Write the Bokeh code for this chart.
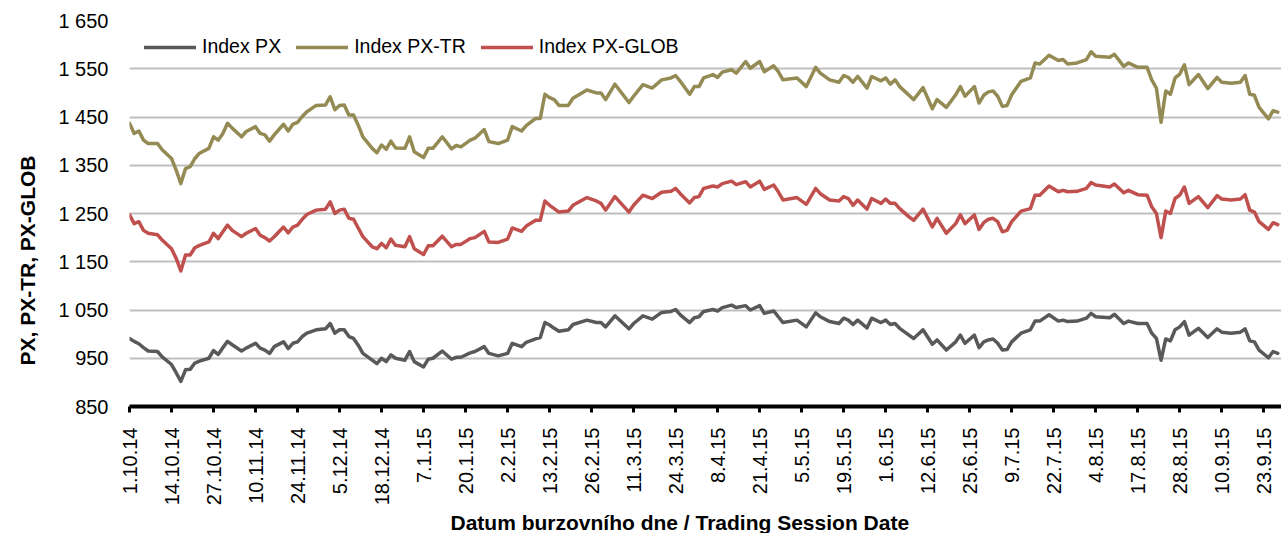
from math import pi
from bokeh.plotting import figure
from bokeh.models import Range1d, FixedTicker, Title
from bokeh.embed import file_html
from bokeh.resources import INLINE

# trading-day index (0 = 1.10.2014)
day = [0, 1, 2, 3, 4, 6, 7, 9, 10, 11, 12, 13, 14, 15, 17, 18, 19, 20, 21, 22, 24, 25, 27, 28,
       29, 30, 31, 33, 34, 35, 36, 37, 38, 40, 42, 43, 44, 45, 46, 47, 48, 49, 50, 52, 53, 54, 55, 56, 57, 59, 60, 61,
       63, 64, 65, 67, 69, 70, 71, 73, 74, 76, 77, 79, 81, 82, 84, 85, 87, 88, 89, 90,
       91, 92, 94, 95, 98, 100, 101, 102, 104, 107, 108, 110, 112, 114, 116, 117, 118, 120, 121,
       122, 123, 125, 126, 127, 129, 130, 132, 133, 135, 136, 138, 139, 140, 143, 145, 147, 148, 150, 152, 153, 154,
       155, 156, 158, 159, 161, 162, 163, 164, 165, 167, 168, 170, 172, 173, 175, 177, 178, 179, 181, 182, 183,
       184, 185, 186, 187, 188, 189, 191, 193, 194, 195, 197, 199, 200, 201, 203, 205, 206, 207, 210, 211, 213, 214, 216,
       218, 219, 220, 221, 222, 223, 224, 225, 226, 227, 229, 231, 233, 234, 236, 238, 239, 240, 241, 242, 244, 245, 246]

px = [991, 985, 980, 972, 965, 964, 953, 937, 920, 902, 926, 927, 940, 944, 950, 966, 958, 972, 985, 978, 965, 971, 981, 971,
      967, 960, 974, 984, 970, 981, 984, 995, 1002, 1009, 1011, 1022, 1002, 1009, 1009, 995, 991, 977, 960, 946, 939, 950, 943, 957, 950, 946, 964, 943,
      932, 948, 950, 965, 948, 952, 952, 961, 964, 974, 960, 955, 960, 981, 974, 983, 990, 993, 1024, 1019,
      1012, 1006, 1009, 1020, 1029, 1024, 1024, 1015, 1038, 1011, 1022, 1038, 1031, 1045, 1047, 1051, 1040, 1024, 1034,
      1036, 1047, 1051, 1048, 1055, 1060, 1055, 1059, 1050, 1059, 1043, 1048, 1036, 1024, 1029, 1015, 1044, 1036, 1026, 1022, 1033, 1029,
      1020, 1029, 1013, 1033, 1024, 1029, 1020, 1022, 1012, 998, 991, 1009, 979, 988, 967, 984, 998, 981, 998, 972, 984,
      988, 990, 981, 967, 968, 984, 1002, 1009, 1027, 1027, 1040, 1027, 1029, 1026, 1027, 1033, 1043, 1036, 1034, 1041, 1022, 1027, 1022,
      1022, 1002, 991, 946, 990, 986, 1009, 1015, 1026, 998, 1012, 993, 1011, 1004, 1002, 1004, 1011, 986, 984, 967, 951, 964, 960]

px_tr = [1437, 1416, 1421, 1402, 1395, 1395, 1382, 1364, 1340, 1312, 1343, 1347, 1364, 1375, 1385, 1409, 1402, 1416, 1437, 1427, 1409, 1420, 1430, 1416,
         1413, 1400, 1413, 1435, 1421, 1435, 1439, 1451, 1461, 1474, 1475, 1492, 1465, 1474, 1475, 1454, 1454, 1433, 1409, 1385, 1376, 1392, 1383, 1400, 1386, 1385, 1409, 1378,
         1366, 1385, 1385, 1409, 1384, 1391, 1388, 1402, 1406, 1424, 1399, 1395, 1402, 1430, 1421, 1432, 1447, 1447, 1497, 1490,
         1486, 1474, 1474, 1489, 1506, 1500, 1500, 1486, 1518, 1480, 1493, 1517, 1510, 1527, 1531, 1536, 1524, 1497, 1513,
         1513, 1531, 1538, 1532, 1543, 1548, 1541, 1565, 1551, 1565, 1544, 1556, 1544, 1527, 1531, 1513, 1553, 1541, 1527, 1522, 1536, 1532,
         1522, 1534, 1510, 1534, 1525, 1531, 1518, 1527, 1513, 1495, 1486, 1511, 1467, 1486, 1470, 1496, 1513, 1493, 1513, 1479, 1495,
         1502, 1504, 1493, 1472, 1474, 1496, 1524, 1531, 1562, 1560, 1578, 1567, 1569, 1560, 1562, 1569, 1585, 1576, 1574, 1580, 1555, 1562, 1553,
         1553, 1527, 1510, 1439, 1504, 1497, 1531, 1539, 1558, 1517, 1538, 1509, 1532, 1522, 1520, 1522, 1536, 1497, 1495, 1470, 1446, 1463, 1460]

px_glob = [1247, 1229, 1233, 1215, 1209, 1206, 1195, 1177, 1157, 1131, 1164, 1164, 1179, 1184, 1191, 1209, 1198, 1212, 1226, 1215, 1202, 1209, 1219, 1205,
           1200, 1193, 1202, 1222, 1210, 1222, 1226, 1238, 1248, 1257, 1259, 1274, 1250, 1257, 1259, 1240, 1238, 1220, 1202, 1181, 1177, 1188, 1179, 1197, 1184, 1181, 1202, 1177,
           1165, 1183, 1183, 1203, 1181, 1186, 1186, 1198, 1200, 1213, 1191, 1190, 1197, 1220, 1213, 1224, 1236, 1236, 1276, 1267,
           1260, 1253, 1255, 1267, 1283, 1276, 1271, 1257, 1285, 1253, 1267, 1288, 1281, 1294, 1296, 1302, 1291, 1272, 1283,
           1285, 1302, 1307, 1305, 1312, 1317, 1310, 1316, 1305, 1317, 1300, 1309, 1295, 1278, 1283, 1269, 1302, 1291, 1278, 1276, 1285, 1281,
           1267, 1278, 1259, 1281, 1271, 1280, 1271, 1271, 1260, 1243, 1236, 1259, 1222, 1240, 1209, 1229, 1247, 1229, 1247, 1217, 1231,
           1238, 1240, 1233, 1212, 1215, 1233, 1255, 1260, 1288, 1288, 1307, 1295, 1298, 1295, 1296, 1302, 1314, 1309, 1305, 1311, 1293, 1298, 1289,
           1288, 1264, 1250, 1200, 1255, 1250, 1281, 1288, 1305, 1271, 1285, 1262, 1287, 1280, 1278, 1280, 1289, 1257, 1253, 1233, 1217, 1231, 1227]

tick_labels = ["1.10.14", "14.10.14", "27.10.14", "10.11.14", "24.11.14", "5.12.14", "18.12.14",
               "7.1.15", "20.1.15", "2.2.15", "13.2.15", "26.2.15", "11.3.15", "24.3.15", "8.4.15",
               "21.4.15", "5.5.15", "19.5.15", "1.6.15", "12.6.15", "25.6.15", "9.7.15", "22.7.15",
               "4.8.15", "17.8.15", "28.8.15", "10.9.15", "23.9.15"]
tick_step = 9  # label every 9th trading day

y_ticks = [850, 950, 1050, 1150, 1250, 1350, 1450, 1550, 1650]
y_tick_labels = ["850", "950", "1 050", "1 150", "1 250", "1 350", "1 450", "1 550", "1 650"]

series_names = ["Index PX", "Index PX-TR", "Index PX-GLOB"]
series_colors = ["#595959", "#948A54", "#C0504D"]

FONT = "Liberation Sans"

p = figure(width=1281, height=533, output_backend="svg", toolbar_location=None,
           x_range=Range1d(0, 246.8), y_range=Range1d(850, 1650),
           min_border_left=128, min_border_right=0, min_border_top=20, min_border_bottom=127)
p.outline_line_color = None
p.background_fill_color = "white"

for vals, name, col in zip([px, px_tr, px_glob], series_names, series_colors):
    p.line(day, vals, line_color=col, line_width=3.5, line_join="round", line_cap="round",
           legend_label=name)

tick_days = [tick_step * k for k in range(len(tick_labels))]
p.xaxis.ticker = FixedTicker(ticks=tick_days)
p.xaxis.major_label_overrides = {d: lab for d, lab in zip(tick_days, tick_labels)}
p.xaxis.major_label_orientation = pi / 2
p.xaxis.axis_line_width = 4
p.xaxis.axis_line_color = "black"
p.xaxis.major_tick_line_width = 3
p.xaxis.major_tick_line_color = "black"
p.xaxis.major_tick_out = 6
p.xaxis.major_tick_in = 0
p.xaxis.minor_tick_line_color = None
p.xaxis.minor_tick_out = 0
p.xaxis.major_label_standoff = 15

p.yaxis.ticker = FixedTicker(ticks=y_ticks)
p.yaxis.major_label_overrides = {v: lab for v, lab in zip(y_ticks, y_tick_labels)}
p.yaxis.axis_line_color = None
p.yaxis.major_tick_line_color = None
p.yaxis.minor_tick_line_color = None
p.yaxis.major_tick_out = 0
p.yaxis.minor_tick_out = 0
p.yaxis.major_label_standoff = 21

for ax in (p.xaxis[0], p.yaxis[0]):
    ax.major_label_text_font = FONT
    ax.major_label_text_font_size = "20px"
    ax.major_label_text_color = "black"

p.xgrid.grid_line_color = None
p.ygrid.ticker = FixedTicker(ticks=y_ticks)
p.ygrid.grid_line_color = "#BFBFBF"
p.ygrid.grid_line_width = 2

leg = p.legend[0]
leg.location = "top_left"
leg.orientation = "horizontal"
leg.margin = 15
leg.padding = 10
leg.spacing = 15
leg.glyph_width = 52
leg.glyph_height = 18
leg.label_height = 18
leg.label_standoff = 6
leg.border_line_color = None
leg.background_fill_alpha = 0
leg.label_text_font = FONT
leg.label_text_font_size = "19.5px"
leg.label_text_color = "black"

ytitle = Title(text="PX, PX-TR, PX-GLOB", align="left", offset=41, standoff=30,
               vertical_align="top",
               text_font=FONT, text_font_style="bold", text_font_size="21px",
               text_color="black")
p.add_layout(ytitle, "left")
xtitle = Title(text="Datum burzovního dne / Trading Session Date", align="left", offset=321,
               standoff=0, text_font=FONT, text_font_style="bold", text_font_size="21px",
               text_color="black")
p.add_layout(xtitle, "below")

open("out.html", "w").write(file_html(p, INLINE))
